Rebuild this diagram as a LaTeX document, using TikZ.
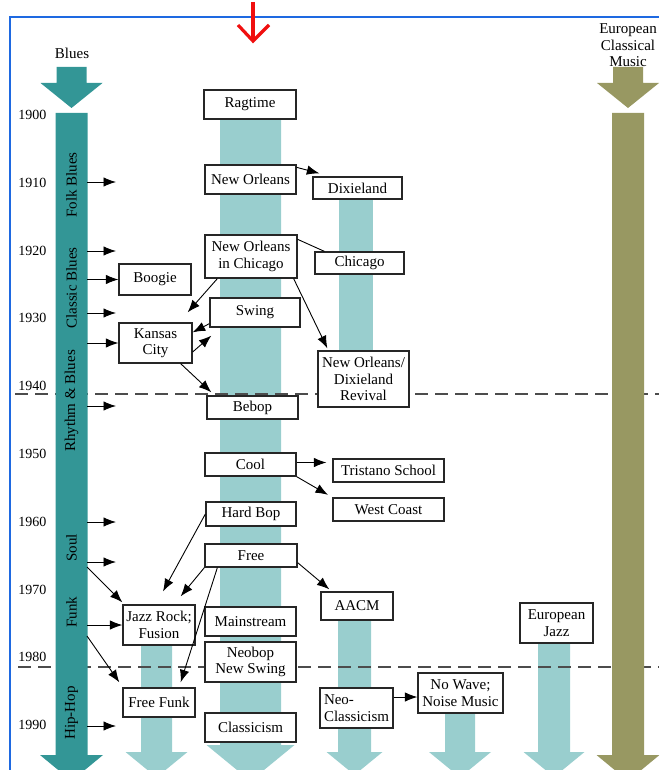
\documentclass[tikz,border=0pt]{standalone}
\usepackage{fontspec}
\setmainfont{Liberation Serif}
\usetikzlibrary{arrows.meta}
\definecolor{bluesteal}{RGB}{51,150,150}
\definecolor{jazzlight}{RGB}{153,206,206}
\definecolor{classicolive}{RGB}{152,152,98}
\definecolor{frameblue}{RGB}{30,105,225}
\definecolor{markred}{RGB}{240,15,15}

\begin{document}
\begin{tikzpicture}[x=1pt, y=-1pt, >={Latex[length=12.5pt,width=9.5pt]},
    every node/.style={font=\fontsize{15}{16.5}\selectfont},
    genre/.style={draw=black!85, fill=white, line width=1.3pt, align=center, inner sep=0pt},
    box/.style 2 args={genre, minimum width=#1pt, minimum height=#2pt},
    era/.style={rotate=90, inner sep=0pt},
    link/.style={->, line width=0.9pt},
    decadeline/.style={draw=black!70, line width=1.2pt, dash pattern=on 13pt off 7pt}]

    \useasboundingbox (0,0) rectangle (659,770);
    \clip (0,0) rectangle (659,770);

    % jazz streams
    \foreach \cx/\sw/\hw/\ty/\hy in {250.5/30.5/44/119/745, 354.5/16.5/28/620/752,
        156.5/15.5/31/645/752, 460/15/31/713/752, 554/16/30.5/643/752}
        \fill[jazzlight] ({\cx-\sw},\ty) -- ({\cx+\sw},\ty) -- ({\cx+\sw},\hy) -- ({\cx+\hw},\hy)
            -- (\cx,{\hy+0.82*\hw}) -- ({\cx-\hw},\hy) -- ({\cx-\sw},\hy) -- cycle;
    \fill[jazzlight] (339,199) rectangle (373,351);

    \draw[decadeline] (15,394) -- (659,394);
    \draw[decadeline] (18,667) -- (659,667);

    % blues and classical streams
    \foreach \cx/\col in {71.5/bluesteal, 628/classicolive} {
        \fill[\col] ({\cx-15},67) -- ({\cx+15},67) -- ({\cx+15},83) -- ({\cx+31},83)
            -- (\cx,108) -- ({\cx-31},83) -- ({\cx-15},83) -- cycle;
        \fill[\col] ({\cx-16},113) -- ({\cx+16},113) -- ({\cx+16},755) -- ({\cx+31.5},755)
            -- (\cx,{755+26}) -- ({\cx-31.5},755) -- ({\cx-16},755) -- cycle;
    }
    \coordinate (bluesbar) at (87,113);

    \node (blues) at (72,53) {Blues};
    \node[align=center] (classical) at (628,45.5) {European\\Classical\\Music};

    \foreach \yr [count=\i from 0] in {1900,1910,...,1990}
        \node[anchor=east, font=\fontsize{14}{16}\selectfont] (y\yr) at (50,{115+67.8*\i}) {\yr};

    \node[era] (folk) at (71.5,185) {Folk Blues};
    \node[era] (classic) at (71.5,288) {Classic Blues};
    \node[era] (rnb) at (71.5,401) {Rhythm \& Blues};
    \node[era] (soulname) at (71.5,548) {Soul};
    \node[era] (funkname) at (71.5,612) {Funk};
    \node[era] (hiphop) at (71.5,713) {Hip-Hop};

    % styles
    \node[box={92}{29}] (ragtime) at (250,104.5) {Ragtime};
    \node[box={91}{29}] (neworleans) at (250.5,179.5) {New Orleans};
    \node[box={89}{22}] (dixieland) at (357.5,188) {Dixieland};
    \node[box={92}{43}] (noinchicago) at (251,256.5) {New Orleans\\in Chicago};
    \node[box={89}{22}] (chicago) at (359.5,263) {Chicago};
    \node[box={72}{31}] (boogie) at (155,279.5) {Boogie};
    \node[box={90}{29}] (swing) at (255,312.5) {Swing};
    \node[box={73}{40}] (kansascity) at (155.5,343) {Kansas\\City};
    \node[box={91}{56}] (revival) at (363.5,379) {New Orleans/\\Dixieland\\Revival};
    \node[box={91}{23}] (bebop) at (252.5,407.5) {Bebop};
    \node[box={91}{23}] (cool) at (250.5,464.5) {Cool};
    \node[box={111}{23}] (tristano) at (388.5,470.5) {Tristano School};
    \node[box={111}{23}] (westcoast) at (388.5,509.5) {West Coast};
    \node[box={90}{24}] (hardbop) at (251,514) {Hard Bop};
    \node[box={92}{23}] (free) at (251,555.5) {Free};
    \node[box={72}{28}] (aacm) at (357,606) {AACM};
    \node[box={72}{40}] (jazzrock) at (159,625) {Jazz Rock;\\Fusion};
    \node[box={91}{29}] (mainstream) at (250.5,621.5) {Mainstream};
    \node[box={91}{40}] (neobop) at (250.5,662) {Neobop\\New Swing};
    \node[box={72}{29}] (freefunk) at (159,702.5) {Free Funk};
    \node[box={91}{29}] (classicism) at (250.5,727.5) {Classicism};
    \node[box={73}{40}, align=left] (neoclassicism) at (356.5,708) {Neo-\\Classicism};
    \node[box={85}{40}] (nowave) at (460.5,693) {No Wave;\\Noise Music};
    \node[box={73}{40}] (europeanjazz) at (556.5,623) {European\\Jazz};

    % influences from the blues
    \foreach \y [count=\i] in {182,251,313,406,522,562,726} {
        \coordinate (tip\i) at (116,\y);
        \draw[link] (bluesbar |- tip\i) -- (tip\i);
    }
    \draw[link] (bluesbar |- boogie.west) -- (boogie.west);
    \draw[link] (bluesbar |- kansascity.west) -- (kansascity.west);
    \draw[link] (bluesbar |- jazzrock.west) -- (jazzrock.west);
    \coordinate (soul) at (87,567);
    \coordinate (funk) at (87,636);
    \draw[link] (soul) -- ([yshift=2pt]jazzrock.north west);
    \draw[link] (funk) -- ([xshift=-3pt,yshift=5pt]freefunk.north west);

    % links between styles
    \draw[link] ([yshift=-3pt]neworleans.north east) -- ([xshift=7pt,yshift=3pt]dixieland.north west);
    \draw[line width=0.9pt] ([yshift=-5pt]noinchicago.north east) -- ([xshift=10pt]chicago.north west);
    \draw[link] ([xshift=13pt]noinchicago.south west) -- ([xshift=-5pt,yshift=10pt]kansascity.north east);
    \draw[link] ([xshift=-4pt]noinchicago.south east) -- ([xshift=10pt,yshift=2pt]revival.north west);
    \draw[link] ([yshift=4pt]swing.south west) -- ([yshift=-10pt]kansascity.north east);
    \draw[link] ([yshift=-9pt]kansascity.east) -- ([xshift=2pt,yshift=-8pt]swing.south west);
    \draw[link] ([xshift=-12pt]kansascity.south east) -- ([xshift=5pt,yshift=3pt]bebop.north west);
    \draw[link, shorten >=6pt] ([yshift=2pt]cool.east) -- ([yshift=2pt]cool.east -| tristano.west);
    \draw[link, shorten >=5pt] (cool.south east) -- (westcoast.north west);
    \draw[link] (hardbop.west) -- ([xshift=4pt,yshift=13pt]jazzrock.north);
    \draw[link] (free.south west) -- ([xshift=-15pt,yshift=8pt]jazzrock.north east);
    \draw[link] ([xshift=13pt]free.south west) -- ([xshift=-15pt,yshift=5pt]freefunk.north east);
    \draw[link] ([yshift=5pt]free.south east) -- ([xshift=9pt,yshift=2pt]aacm.north west);
    \draw[link] ([yshift=-4pt]nowave.west -| neoclassicism.east) -- ([yshift=-4pt]nowave.west);

    % frame and marker
    \draw[frameblue, line width=2.5pt] (10,770) -- (10,17) -- (659,17);
    \draw[markred, line width=3.2pt] (253,2) -- (253,41);
    \draw[markred, line width=3.2pt, line join=miter] (238,25) -- (253,41) -- (269,25);
\end{tikzpicture}
\end{document}
